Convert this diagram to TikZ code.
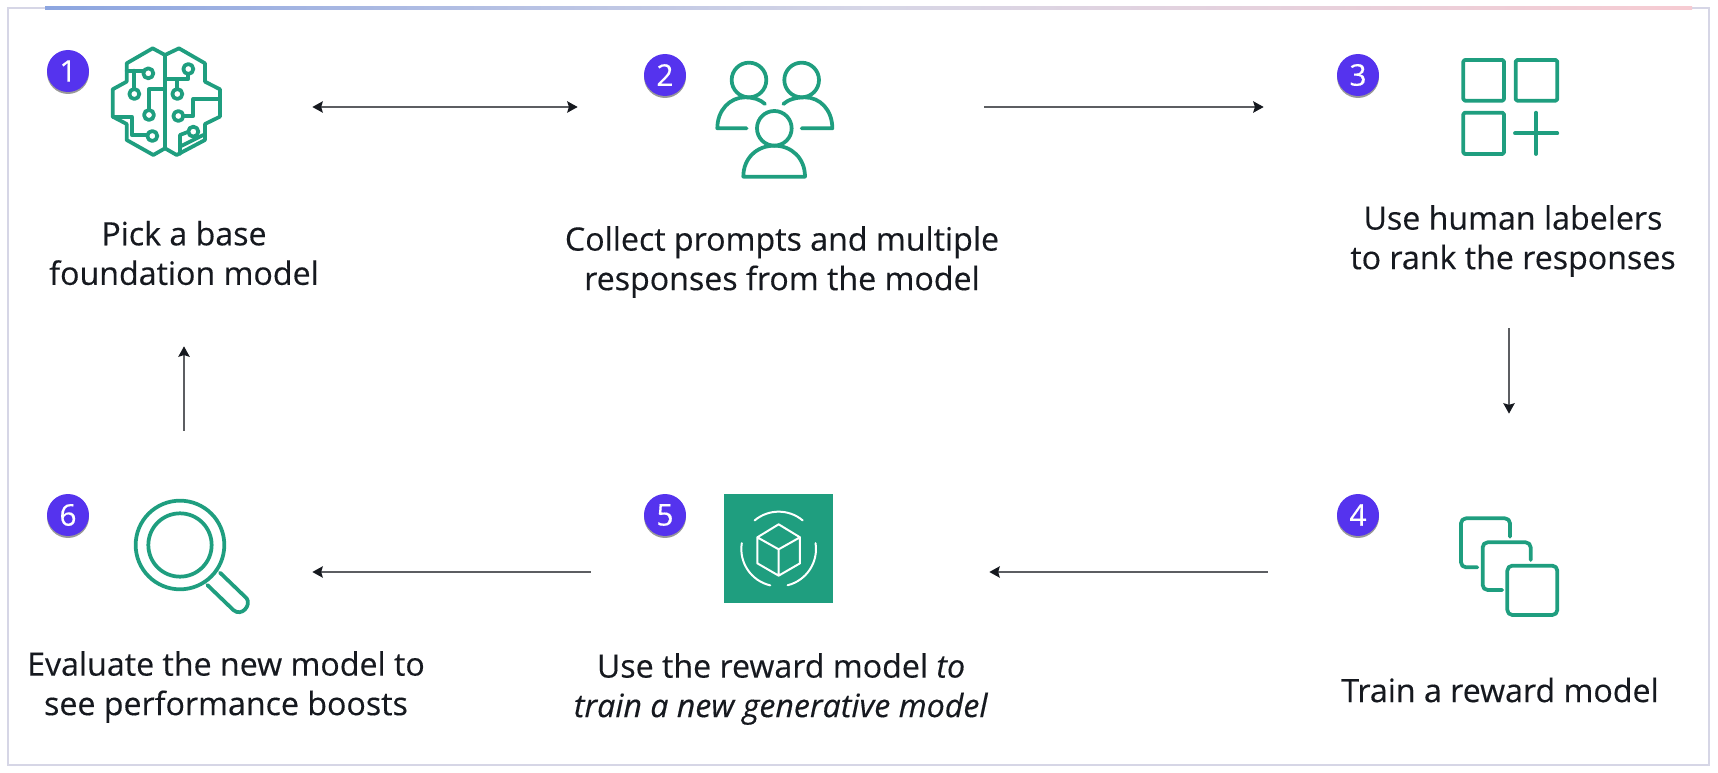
\documentclass[tikz,border=0pt]{standalone}
\usepackage{fontspec}
\setmainfont[FakeBold=0.35]{Open Sans}
\usetikzlibrary{arrows.meta,shadows}

\definecolor{badgeblue}{HTML}{5533EE}
\definecolor{icongreen}{HTML}{1F9E7F}
\definecolor{inkdark}{HTML}{16191F}
\definecolor{framegray}{HTML}{D6D6E6}
\definecolor{lineblue}{HTML}{8CA5E0}
\definecolor{linepink}{HTML}{F6CBD2}

\begin{document}
\begin{tikzpicture}[x=0.02cm,y=-0.02cm,
    badge/.style={circle,fill=badgeblue,text=white,minimum size=0.84cm,inner sep=0pt,font=\fontsize{17}{17}\selectfont,
        drop shadow={shadow xshift=0pt,shadow yshift=-0.04cm,opacity=0.4,fill=black}},
    label/.style={align=center,text=inkdark,font=\fontsize{18.3}{22.5}\selectfont},
    iconbox/.style={minimum width=2.2cm,minimum height=2.2cm,inner sep=0pt},
    link/.style={draw=inkdark!70,line width=1pt,>={Stealth[length=6pt,width=6.5pt,inset=1pt,color=inkdark]}},
    icon/.style={draw=icongreen,line width=0.075cm,line join=round,line cap=round},
    zoomed/.style={x=0.02cm/3,y=-0.02cm/3}]

    \useasboundingbox (0,0) rectangle (1718,773);

    % Frame
    \draw[framegray,line width=0.05cm] (8,8) rectangle (1709,765);
    \shade[left color=lineblue,right color=linepink,middle color=framegray] (45,7) rectangle (1692,9.5);

    % Steps
    \node[badge] (b1) at (68,71) {1};
    \node[badge] (b2) at (665,75) {2};
    \node[badge] (b3) at (1358,75) {3};
    \node[badge] (b4) at (1358,515) {4};
    \node[badge] (b5) at (665,515) {5};
    \node[badge] (b6) at (68,515) {6};

    \node[label] (pick) at (184,253) {Pick a base\\foundation model};
    \node[label] (collect) at (782,262) {Collect prompts and multiple\\responses from the model};
    \node[label] (rank) at (1513,241) {Use human labelers\\to rank the responses};
    \node[label] (train) at (1500,690) {Train a reward model};
    \node[label] (reward) at (781,689) {Use the reward model \textit{to}\\\textit{train a new generative model}};
    \node[label] (evaluate) at (226,687) {Evaluate the new model to\\see performance boosts};

    % Anchors of the icons
    \node[iconbox] (brain) at (184,107) {};
    \node[iconbox] (people) at (775,107) {};
    \node[iconbox] (grid) at (1509,107) {};
    \node[iconbox] (stack) at (1509,572) {};
    \node[iconbox] (cube) at (779,572) {};
    \node[iconbox] (lens) at (184,572) {};

    % Brain
    \begin{scope}[shift={(0,0)},zoomed]
        \draw[icon] (495,165) -- (458,145) -- (380,190) -- (380,245) -- (338,268) -- (338,350) -- (380,372) -- (380,420) -- (460,465) -- (495,445)
            -- (530,465) -- (615,420) -- (615,372) -- (660,350) -- (660,268) -- (615,245) -- (615,190) -- (537,145) -- cycle -- (495,445);
        \draw[icon] (380,212) -- (429,212) (403,212) -- (403,267) (495,268) -- (447,268) -- (447,330) (340,350) -- (395,350) -- (395,405) -- (442,405);
        \draw[icon] (495,237) -- (565,237) -- (565,222) (532,237) -- (532,267) (660,297) -- (580,297) -- (580,348) -- (550,348);
        \draw[icon] (540,462) -- (540,405) -- (566,395) (540,440) -- (610,405);
        \foreach \cx/\cy in {445/220,403/282,447/345,457/408,565/207,532/282,535/348,580/395}
            \draw[icon,fill=white] (\cx,\cy) circle (15);
    \end{scope}

    % People
    \begin{scope}[shift={(620,0)},zoomed]
        \draw[icon] (387,240) circle (52) (545,240) circle (52) (463,385) circle (52);
        \draw[icon] (380,385) -- (292,385) .. controls (292,330) and (330,292) .. (375,292) .. controls (400,292) and (420,298) .. (435,312);
        \draw[icon] (545,385) -- (637,385) .. controls (637,330) and (600,292) .. (555,292) .. controls (530,292) and (505,298) .. (490,312);
        \draw[icon] (370,530) -- (555,530) .. controls (555,475) and (515,437) .. (463,437) .. controls (410,437) and (370,475) .. (370,530) -- cycle;
    \end{scope}

    % Grid
    \begin{scope}[shift={(1300,0)},zoomed]
        \draw[icon,rounded corners=0.03cm] (490,180) rectangle (612,302) (647,180) rectangle (772,302) (490,338) rectangle (612,462);
        \draw[icon] (645,400) -- (772,400) (708,338) -- (708,462);
    \end{scope}

    % Stacked squares
    \begin{scope}[shift={(1300,480)},zoomed,rounded corners=0.1cm]
        \draw[icon] (622,257) rectangle (772,405);
        \draw[icon] (607,330) -- (548,330) -- (548,187) -- (692,187) -- (692,240);
        \draw[icon] (532,262) -- (483,262) -- (483,115) -- (630,115) -- (630,170);
    \end{scope}

    % Cube
    \begin{scope}[shift={(620,480)},zoomed]
        \fill[icongreen] (313,43) rectangle (640,370);
        \draw[white,line width=0.04cm,line cap=round,line join=round] (476,133) -- (540,172) -- (540,250) -- (476,287) -- (412,250) -- (412,172) -- cycle
            (412,172) -- (476,208) -- (540,172) (476,208) -- (476,287);
        \draw[white,line width=0.04cm,line cap=round] (476,207) ++(-130:112) arc[start angle=-130,end angle=-50,radius=112]
            (476,207) ++(103:112) arc[start angle=103,end angle=189,radius=112]
            (476,207) ++(-9:112) arc[start angle=-9,end angle=76,radius=112];
    \end{scope}

    % Lens
    \begin{scope}[shift={(0,480)},zoomed]
        \draw[icon] (540,195) circle (133) (540,195) circle (95);
        \draw[icon] (660,278) -- (740,355) .. controls (755,375) and (725,412) .. (700,390) -- (622,315);
    \end{scope}

    % Connect steps
    \draw[link,<->,shorten <=1.46cm,shorten >=2.84cm] (brain) -- (people);
    \draw[link,->,shorten <=3.08cm,shorten >=3.8cm] (people) -- (grid);
    \draw[link,->,shorten <=3.32cm,shorten >=2.06cm] (grid) -- (stack);
    \draw[link,->,shorten <=3.72cm,shorten >=3.1cm] (stack) -- (cube);
    \draw[link,->,shorten <=2.66cm,shorten >=1.46cm] (cube) -- (lens);
    \draw[link,->,shorten <=1.72cm,shorten >=3.68cm] (lens) -- (brain);

\end{tikzpicture}
\end{document}
